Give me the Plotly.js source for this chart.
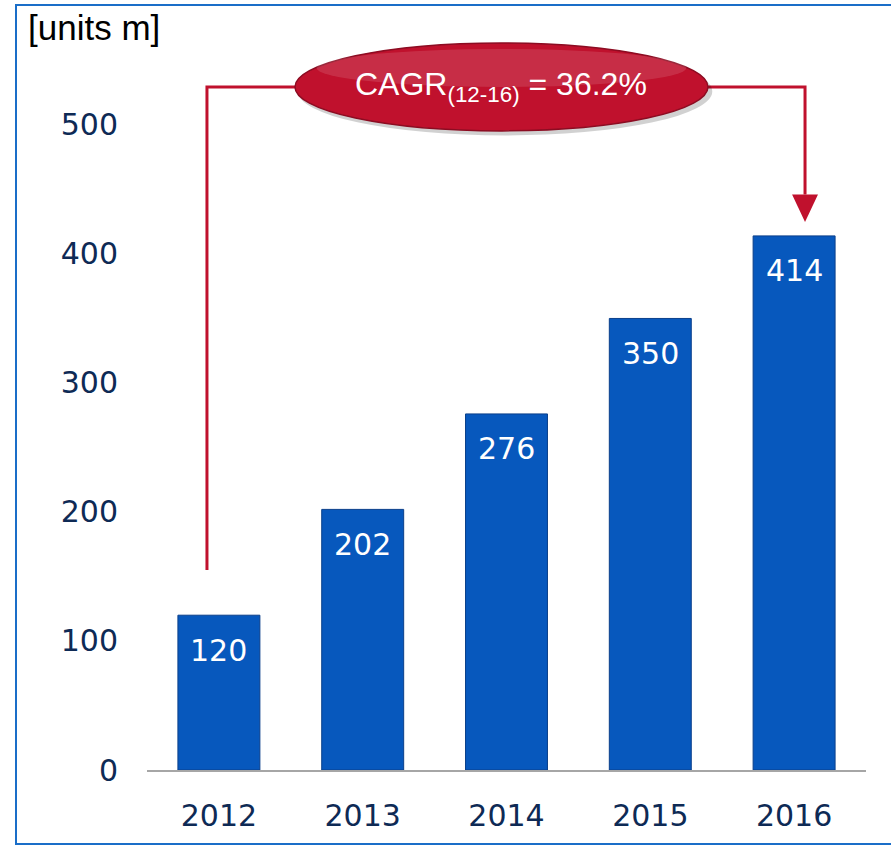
<!DOCTYPE html>
<html>
<head>
<meta charset="utf-8">
<script src="https://cdn.plot.ly/plotly-3.0.1.min.js"></script>
<style>
  body { margin: 0; background: #fff; }
  #chart { width: 891px; height: 846px; position: relative; }
  #frame {
    position: absolute; left: 15px; top: 4px; width: 900px; height: 837px;
    border: 2px solid #1a6ec8; border-right: none; pointer-events: none;
  }
</style>
</head>
<body>
<div id="chart"></div>
<div id="frame"></div>
<script>
const years = ['2012', '2013', '2014', '2015', '2016']
const units = [120, 202, 276, 350, 414]
const yTicks = [0, 100, 200, 300, 400, 500]
const cagrText = 'CAGR<sub>(12-16)</sub> = 36.2%'

const yMax = 589.1
const red = '#c0112d'

// category index / value -> paper coords
const px = (i) => (i + 0.5) / years.length
const py = (v) => v / yMax

const bars = {
  x: years,
  y: units,
  type: 'bar',
  width: 0.57,
  marker: { color: '#0758bd', line: { color: '#0a3f8a', width: 1 } },
  hoverinfo: 'skip'
}

// value labels inside the top of each bar (x given as category index)
const labels = years.map((yr, i) => ({
  x: i, y: units[i], xref: 'x', yref: 'y',
  text: String(units[i]), showarrow: false, yshift: -35, yanchor: 'middle',
  font: { family: 'DejaVu Sans', size: 30, color: '#ffffff' }
}))

// connector from 2012 to 2016
const xL = px(-0.083), xR = px(4.076)
const yTop = py(529.5), yBot = py(155)
const eX0 = px(0.529), eX1 = px(3.401)
const eY0 = py(495.4), eY1 = py(563.6)
const tipY = py(424.8), baseY = py(446)
const half = 0.09 / years.length

const shapes = [
  { type: 'path', xref: 'paper', yref: 'paper',
    path: `M${xL},${yBot} L${xL},${yTop} L${eX0 + 0.01},${yTop}`,
    line: { color: red, width: 3 } },
  { type: 'path', xref: 'paper', yref: 'paper',
    path: `M${eX1 - 0.01},${yTop} L${xR},${yTop} L${xR},${baseY}`,
    line: { color: red, width: 3 } },
  { type: 'path', xref: 'paper', yref: 'paper',
    path: `M${xR - half},${baseY} L${xR + half},${baseY} L${xR},${tipY} Z`,
    fillcolor: red, line: { width: 0 } },
  // shadow
  { type: 'circle', xref: 'paper', yref: 'paper',
    x0: eX0 + 0.004, x1: eX1 + 0.006, y0: eY0 - 0.006, y1: eY1 - 0.006,
    fillcolor: 'rgba(0,0,0,0.18)', line: { width: 0 } },
  { type: 'circle', xref: 'paper', yref: 'paper',
    x0: eX0, x1: eX1, y0: eY0, y1: eY1,
    fillcolor: red, line: { color: '#8c0c22', width: 1.5 } },
  // sheen
  { type: 'circle', xref: 'paper', yref: 'paper',
    x0: eX0 + 0.03, x1: eX1 - 0.03, y0: (eY0 + eY1) / 2, y1: eY1 - 0.008,
    fillcolor: 'rgba(255,255,255,0.12)', line: { width: 0 } }
]

const annotations = labels.concat([
  { xref: 'paper', yref: 'paper', x: (eX0 + eX1) / 2, y: (eY0 + eY1) / 2,
    text: cagrText, showarrow: false, xanchor: 'center', yanchor: 'middle',
    font: { family: 'Liberation Sans, Arial', size: 32, color: '#ffffff' } },
  { xref: 'paper', yref: 'paper', x: -0.168, y: 1.005, xanchor: 'left', yanchor: 'top',
    text: '[units m]', showarrow: false,
    font: { family: 'Liberation Sans, Arial', size: 35, color: '#000000' } }
])

const layout = {
  width: 891,
  height: 846,
  margin: { t: 10, b: 76, l: 147, r: 25 },
  paper_bgcolor: '#ffffff',
  plot_bgcolor: '#ffffff',
  showlegend: false,
  xaxis: {
    type: 'category',
    range: [-0.5, 4.5],
    showline: true, linecolor: '#a6a6a6', linewidth: 2,
    showgrid: false, zeroline: false, ticks: '',
    ticklabelstandoff: 18,
    tickfont: { family: 'DejaVu Sans', size: 30, color: '#0e2a55' }
  },
  yaxis: {
    range: [0, yMax],
    tickvals: yTicks,
    showgrid: false, zeroline: false, showline: false, ticks: '',
    ticklabelstandoff: 28,
    tickfont: { family: 'DejaVu Sans', size: 30, color: '#0e2a55' }
  },
  shapes: shapes,
  annotations: annotations
}

Plotly.newPlot('chart', [bars], layout, { responsive: false, displayModeBar: false })
</script>
</body>
</html>
